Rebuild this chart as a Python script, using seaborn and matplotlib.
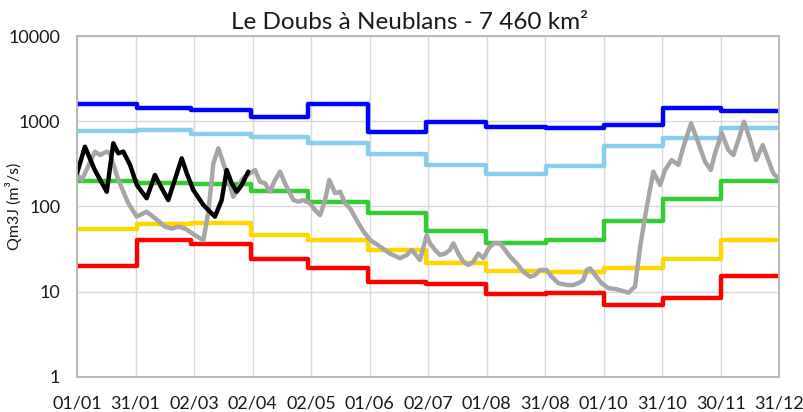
import seaborn as sns
import matplotlib
matplotlib.use("Agg")
import matplotlib.pyplot as plt
import matplotlib.ticker as mticker

# month starts (day of year) for the monthly step series
month_start = [0, 31, 59, 90, 120, 151, 181, 212, 243, 273, 304, 334]
day_end = 364

# monthly reference flows (m3/s)
q_max = [1600, 1440, 1355, 1130, 1600, 755, 970, 865, 825, 905, 1420, 1320]
q_wet = [775, 790, 708, 647, 551, 409, 307, 239, 301, 512, 641, 841]
q_median = [199, 190, 182, 152, 114, 83, 52, 37, 40.5, 68, 121, 199]
q_dry = [54, 62, 63.5, 46, 40, 31, 22, 17.7, 17.2, 19.1, 24.2, 40.5]
q_min = [20.2, 40.5, 36, 24.2, 19.1, 13.1, 12.2, 9.3, 9.6, 7.0, 8.5, 15.3]

# previous year daily flow (gray)
prev_days = [0, 2.5, 9.3, 12, 15.4, 17, 21.4, 26.6, 31, 36, 40.4, 45.6, 49, 52.5, 56,
             61.2, 65.5, 68, 70.7, 73.3, 75.9, 78.5, 81, 83.6, 85.4, 87.1, 92.3, 94.9,
             97.5, 100, 102.7, 105.3, 107.8, 112.2, 114.8, 117.3, 120.8, 123.4, 126,
             128.6, 130.8, 133.8, 136.4, 139, 141.6, 145, 148.5, 152, 157, 162.3, 167.5,
             171, 173.5, 177.8, 181.3, 183, 185.6, 188.2, 190.8, 193.4, 195.1, 197.7,
             200.3, 202.9, 205.5, 208.1, 210.7, 213.3, 215.9, 219.3, 221.9, 224.5, 228,
             231.4, 234.9, 237.5, 240, 243.5, 246.1, 249.6, 253.9, 257.3, 259.9, 262.5,
             264.3, 266, 268.6, 272, 275.5, 279.8, 285.9, 289.3, 292, 295.4, 298.8,
             302.3, 304.9, 308.3, 311.8, 314.4, 318.4, 322.2, 325.6, 328.6, 330.8,
             334.3, 337.7, 340.3, 342.9, 345.8, 349, 352.1, 355.5, 358.4, 361, 363.6]
prev_q = [235, 205, 440, 402, 440, 421, 205, 109, 76, 87, 73, 58, 55, 58, 55, 46, 40, 83,
          321, 482, 321, 205, 130, 163, 205, 224, 268, 195, 187, 149, 205, 256, 187, 119,
          114, 119, 109, 91, 79, 119, 205, 143, 149, 109, 95, 69, 51, 40.5, 34, 28, 24.7,
          27, 31, 23.6, 46, 37, 31, 27, 28, 31, 37, 28, 22.5, 20.6, 22.5, 28, 24.7, 32, 37,
          37, 31, 25.8, 21.5, 17.2, 15, 15.7, 18, 18, 15, 12.6, 12, 12, 12.6, 13.7, 18, 18.8,
          15.7, 12.6, 11, 10.7, 9.75, 11.5, 34, 99, 256, 179, 268, 351, 307, 503, 946, 551,
          335, 268, 421, 721, 460, 402, 603, 989, 603, 351, 526, 351, 245, 214]

# current year daily flow (black)
cur_days = [0, 4.1, 9.2, 15.4, 18.8, 21.4, 24, 27.5, 31, 36.1, 40.4, 43, 47.3, 54.3,
            56.9, 60.3, 65.5, 71.5, 75, 77.6, 80.2, 82.8, 85.4, 88.8]
cur_q = [245, 503, 268, 149, 551, 421, 440, 307, 179, 125, 234, 179, 119, 367, 245, 156,
         104, 76, 119, 268, 187, 149, 179, 256]

tick_labels = ["01/01", "31/01", "02/03", "02/04", "02/05", "01/06", "02/07",
               "01/08", "31/08", "01/10", "31/10", "30/11", "31/12"]

sns.set_style("white")
plt.rcParams["font.family"] = ["Lato", "DejaVu Sans"]

fig, ax = plt.subplots(figsize=(8.04, 4.12), dpi=100)
fig.subplots_adjust(left=0.0958, right=0.969, top=0.9126, bottom=0.085)

step_x = month_start + [day_end]
steps = [(q_max, "#0000ff"), (q_wet, "#87ceeb"), (q_median, "#33cc33"),
         (q_dry, "#ffd700"), (q_min, "#ff0000")]
for vals, col in steps:
    sns.lineplot(x=step_x, y=vals + [vals[-1]], color=col, lw=3.2,
                 drawstyle="steps-post", ax=ax, estimator=None)

sns.lineplot(x=prev_days, y=prev_q, color="#a6a6a6", lw=3.2, ax=ax, estimator=None,
             solid_joinstyle="round", solid_capstyle="round")
sns.lineplot(x=cur_days, y=cur_q, color="black", lw=3.2, ax=ax, estimator=None,
             solid_joinstyle="round", solid_capstyle="round")

ax.set_yscale("log")
ax.set_ylim(1, 10000)
ax.set_xlim(0, day_end)
ax.yaxis.set_major_locator(mticker.FixedLocator([1, 10, 100, 1000, 10000]))
ax.yaxis.set_major_formatter(mticker.FuncFormatter(lambda v, p: f"{v:.0f}"))
ax.yaxis.set_minor_locator(mticker.NullLocator())
xt = [day_end * i / 12 for i in range(13)]
ax.set_xticks(xt)
ax.set_xticklabels(tick_labels)
ax.tick_params(axis="both", length=0, labelsize=13, colors="#1a1a1a")
ax.tick_params(axis="x", pad=13)
ax.tick_params(axis="y", pad=12)
ax.grid(True, color="#d9d9d9", lw=1)
ax.set_axisbelow(True)
for s in ax.spines.values():
    s.set_color("#b3b3b3")
    s.set_linewidth(1.3)

ax.set_ylabel("Qm3J (m³/s)", fontsize=11.5, color="#1a1a1a")
ax.yaxis.set_label_coords(-0.078, 0.5)
fig.text(0.51, 0.945, "Le Doubs à Neublans - 7 460 km²", ha="center", va="center",
         fontsize=17.5, color="#1a1a1a")

fig.savefig("out.png", dpi=100)
